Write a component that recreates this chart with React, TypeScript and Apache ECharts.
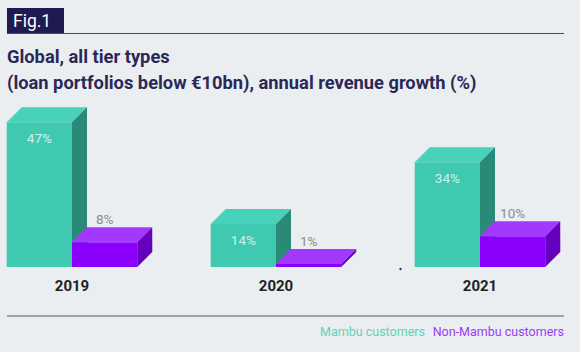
import React, { useEffect, useRef } from "react";
import * as echarts from "echarts";

const years = ["2019", "2020", "2021"];
const mambu = [47, 14, 34];
const nonMambu = [8, 1, 10];
const seriesNames = ["Mambu customers", "Non-Mambu customers"];
const titleLines = ["Global, all tier types", "(loan portfolios below €10bn), annual revenue growth (%)"];
const figLabel = "Fig.1";

const FONT = "Roboto, 'Noto Sans', sans-serif";
const DX = 15;
const DY = 15;

type Palette = { front: string; top: string; side: string; label: string; inside: boolean };
const palettes: Palette[] = [
  { front: "#3fc9b0", top: "#48d2b9", side: "#2b8a77", label: "#cdf3ec", inside: true },
  { front: "#8a00fc", top: "#a338ff", side: "#6500bf", label: "#8c8c8c", inside: false },
];

function makeRender(idx: number) {
  const p = palettes[idx];
  return (params: any, api: any) => {
    const cat = api.value(0);
    const val = api.value(1);
    const base = api.coord([cat, 0]);
    const top = api.coord([cat, val]);
    const band = api.size([1, 0])[0];
    const w = band * 0.32;
    const x = idx === 0 ? base[0] - w : base[0];
    const by = base[1];
    const ty = top[1];
    const children: any[] = [
      {
        type: "rect",
        shape: { x, y: ty, width: w, height: by - ty },
        style: { fill: p.front },
      },
      {
        type: "polygon",
        shape: { points: [[x, ty], [x + DX, ty - DY], [x + w + DX, ty - DY], [x + w, ty]] },
        style: { fill: p.top },
      },
      {
        type: "polygon",
        shape: { points: [[x + w, ty], [x + w + DX, ty - DY], [x + w + DX, by - DY], [x + w, by]] },
        style: { fill: p.side },
      },
      {
        type: "text",
        style: {
          text: val + "%",
          x: x + w / 2,
          y: p.inside ? ty + 16 : ty - DY - 8,
          align: "center",
          verticalAlign: "middle",
          fill: p.label,
          fontSize: 13.5,
          fontFamily: FONT,
          fontWeight: "normal",
        },
      },
    ];
    return { type: "group", children };
  };
}

export default function App() {
  const ref = useRef<HTMLDivElement>(null);
  useEffect(() => {
    if (!ref.current) return;
    const chart = echarts.init(ref.current, null, { renderer: "svg" });
    chart.setOption({
      animation: false,
      backgroundColor: "#ebeef0",
      grid: { left: 72, right: 100, top: 113, bottom: 85 },
      xAxis: {
        type: "category",
        data: years,
        boundaryGap: false,
        axisLine: { show: false },
        axisTick: { show: false },
        axisLabel: { margin: 11, fontSize: 15, fontWeight: "bold", color: "#222222", fontFamily: FONT },
      },
      yAxis: { type: "value", min: 0, max: 50, show: false, splitLine: { show: false } },
      title: {
        text: titleLines.join("\n"),
        left: 7,
        top: 43,
        padding: 0,
        textStyle: { fontSize: 18.3, fontWeight: "bold", color: "#2a2856", fontFamily: FONT, lineHeight: 26 },
      },
      graphic: [
        { type: "rect", shape: { x: 7, y: 8, width: 57, height: 25 }, style: { fill: "#1f1a50" } },
        {
          type: "text",
          x: 13,
          y: 21,
          style: { text: figLabel, fill: "#ffffff", fontSize: 17.5, fontFamily: FONT, verticalAlign: "middle" },
        },
        { type: "line", shape: { x1: 7, y1: 33.5, x2: 564, y2: 33.5 }, style: { stroke: "#4a4868", lineWidth: 1 } },
        { type: "line", shape: { x1: 7, y1: 316, x2: 564, y2: 316 }, style: { stroke: "#9da1a8", lineWidth: 2 } },
        { type: "circle", shape: { cx: 400.5, cy: 269, r: 1.2 }, style: { fill: "#2a2a8a" } },
        {
          type: "text",
          x: 425,
          y: 331,
          style: { text: seriesNames[0], fill: "#5ed2bb", fontSize: 12.5, fontFamily: FONT, align: "right", verticalAlign: "middle" },
        },
        {
          type: "text",
          x: 564,
          y: 331,
          style: { text: seriesNames[1], fill: "#9a3cf5", fontSize: 12.5, fontFamily: FONT, align: "right", verticalAlign: "middle" },
        },
      ],
      series: [
        {
          type: "custom",
          name: seriesNames[0],
          renderItem: makeRender(0),
          encode: { x: 0, y: 1 },
          data: mambu.map((v, i) => [i, v]),
        },
        {
          type: "custom",
          name: seriesNames[1],
          renderItem: makeRender(1),
          encode: { x: 0, y: 1 },
          data: nonMambu.map((v, i) => [i, v]),
        },
      ],
    });
    return () => chart.dispose();
  }, []);
  return <div ref={ref} style={{ position: "fixed", left: 0, top: 0, width: 580, height: 352 }} />;
}
